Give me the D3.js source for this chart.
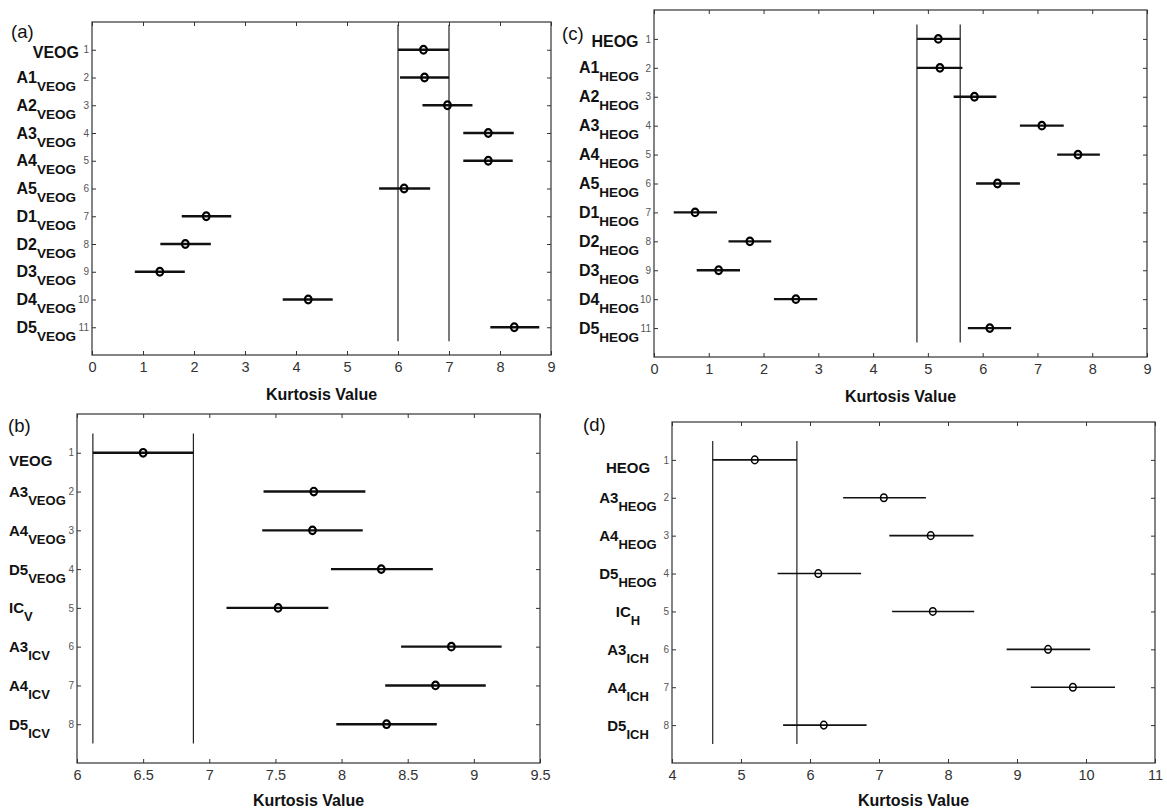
<!DOCTYPE html>
<html>
<head>
<meta charset="utf-8">
<script src="https://cdn.jsdelivr.net/npm/d3@7"></script>
<style>
  body { margin: 0; background: #fff; }
  svg text { font-family: "Liberation Sans", Arial, sans-serif; }
</style>
</head>
<body>
<svg id="chart" width="1167" height="812"></svg>
<script>
// panel (a) - VEOG kurtosis
const aLabels = [['VEOG', ''], ['A1', 'VEOG'], ['A2', 'VEOG'], ['A3', 'VEOG'], ['A4', 'VEOG'], ['A5', 'VEOG'],
  ['D1', 'VEOG'], ['D2', 'VEOG'], ['D3', 'VEOG'], ['D4', 'VEOG'], ['D5', 'VEOG']];
const aMean = [6.50, 6.52, 6.97, 7.77, 7.77, 6.12, 2.24, 1.83, 1.33, 4.24, 8.28];
const aLow = [6.00, 6.04, 6.48, 7.28, 7.28, 5.63, 1.76, 1.34, 0.84, 3.74, 7.81];
const aHigh = [7.00, 7.00, 7.46, 8.27, 8.25, 6.63, 2.73, 2.33, 1.82, 4.72, 8.77];
const aRef = [6.0, 7.0];
const aTicks = [0, 1, 2, 3, 4, 5, 6, 7, 8, 9];

// panel (b) - VEOG vs ICV
const bLabels = [['VEOG', ''], ['A3', 'VEOG'], ['A4', 'VEOG'], ['D5', 'VEOG'], ['IC', 'V'],
  ['A3', 'ICV'], ['A4', 'ICV'], ['D5', 'ICV']];
const bMean = [6.50, 7.79, 7.78, 8.30, 7.52, 8.83, 8.71, 8.34];
const bLow = [6.12, 7.41, 7.40, 7.92, 7.13, 8.45, 8.33, 7.96];
const bHigh = [6.88, 8.18, 8.16, 8.69, 7.90, 9.21, 9.09, 8.72];
const bRef = [6.12, 6.88];
const bTicks = [6, 6.5, 7, 7.5, 8, 8.5, 9, 9.5];

// panel (c) - HEOG kurtosis
const cLabels = [['HEOG', ''], ['A1', 'HEOG'], ['A2', 'HEOG'], ['A3', 'HEOG'], ['A4', 'HEOG'], ['A5', 'HEOG'],
  ['D1', 'HEOG'], ['D2', 'HEOG'], ['D3', 'HEOG'], ['D4', 'HEOG'], ['D5', 'HEOG']];
const cMean = [5.19, 5.22, 5.85, 7.08, 7.74, 6.27, 0.75, 1.75, 1.18, 2.59, 6.13];
const cLow = [4.80, 4.80, 5.47, 6.68, 7.36, 5.88, 0.36, 1.36, 0.78, 2.19, 5.73];
const cHigh = [5.59, 5.63, 6.25, 7.48, 8.14, 6.68, 1.15, 2.14, 1.57, 2.98, 6.52];
const cRef = [4.80, 5.59];
const cTicks = [0, 1, 2, 3, 4, 5, 6, 7, 8, 9];

// panel (d) - HEOG vs ICH
const dLabels = [['HEOG', ''], ['A3', 'HEOG'], ['A4', 'HEOG'], ['D5', 'HEOG'], ['IC', 'H'],
  ['A3', 'ICH'], ['A4', 'ICH'], ['D5', 'ICH']];
const dMean = [5.20, 7.07, 7.75, 6.12, 7.78, 9.45, 9.81, 6.20];
const dLow = [4.59, 6.48, 7.15, 5.53, 7.19, 8.85, 9.20, 5.61];
const dHigh = [5.81, 7.68, 8.37, 6.74, 8.38, 10.06, 10.42, 6.82];
const dRef = [4.59, 5.81];
const dTicks = [4, 5, 6, 7, 8, 9, 10, 11];

const svg = d3.select('#chart');

function drawPanel(p) {
  const g = svg.append('g');
  const n = p.labels.length;
  const x = d3.scaleLinear().domain([p.xTicks[0], p.xTicks[p.xTicks.length - 1]]).range([p.left, p.right]);
  const y = d3.scaleLinear().domain([0, n + 1]).range([p.top, p.bottom]);
  const rows = d3.range(1, n + 1);

  // axes, ticks pointing inward like matlab
  const bottom = g.append('g').attr('transform', `translate(0,${p.bottom})`)
    .call(d3.axisBottom(x).tickValues(p.xTicks).tickSize(-4).tickPadding(7).tickFormat(d3.format('')));
  g.append('g').attr('transform', `translate(0,${p.top})`)
    .call(d3.axisTop(x).tickValues(p.xTicks).tickSize(-4).tickFormat(''));
  const left = g.append('g').attr('transform', `translate(${p.left},0)`)
    .call(d3.axisLeft(y).tickValues(rows).tickSize(-4).tickPadding(3));
  g.append('g').attr('transform', `translate(${p.right},0)`)
    .call(d3.axisRight(y).tickValues(rows).tickSize(-4).tickFormat(''));
  g.selectAll('.domain').remove();
  g.selectAll('.tick line').attr('stroke', '#333');
  bottom.selectAll('text').attr('font-size', 14.5).attr('fill', '#333');
  left.selectAll('text').attr('font-size', 10).attr('fill', '#555');

  g.append('rect')
    .attr('x', p.left).attr('y', p.top)
    .attr('width', p.right - p.left).attr('height', p.bottom - p.top)
    .attr('fill', 'none').attr('stroke', '#333').attr('stroke-width', 1.2);

  // reference range lines
  g.selectAll('.ref').data(p.ref).join('line')
    .attr('x1', d => x(d)).attr('x2', d => x(d))
    .attr('y1', y(p.refSpan[0])).attr('y2', y(p.refSpan[1]))
    .attr('stroke', '#222').attr('stroke-width', 1.2);

  // error bars
  g.selectAll('.bar').data(rows).join('line')
    .attr('x1', i => x(p.low[i - 1])).attr('x2', i => x(p.high[i - 1]))
    .attr('y1', i => y(i)).attr('y2', i => y(i))
    .attr('stroke', '#111').attr('stroke-width', p.barWidth);

  g.selectAll('.pt').data(rows).join('ellipse')
    .attr('cx', i => x(p.mean[i - 1])).attr('cy', i => y(i))
    .attr('rx', 3.3).attr('ry', 3.8)
    .attr('fill', 'none').attr('stroke', '#000').attr('stroke-width', p.markWidth);

  // category labels with subscripts; the plain (no subscript) label sits a bit lower
  const plain = i => !p.labels[i - 1][1];
  const lab = g.selectAll('.lab').data(rows).join('text')
    .attr('x', i => p.labX + (plain(i) ? p.plainShift : 0))
    .attr('y', i => y(i) + 5.5 + (plain(i) ? p.plainDrop : 0))
    .attr('text-anchor', p.labAnchor)
    .attr('font-weight', 'bold').attr('fill', '#111');
  lab.append('tspan').attr('font-size', p.mainSize).text(i => p.labels[i - 1][0]);
  lab.append('tspan').attr('font-size', p.subSize).attr('dy', 8).text(i => p.labels[i - 1][1]);

  g.append('text')
    .attr('x', (p.left + p.right) / 2).attr('y', p.titleY)
    .attr('text-anchor', 'middle').attr('font-weight', 'bold').attr('font-size', 16).attr('fill', '#111')
    .text('Kurtosis Value');

  g.append('text')
    .attr('x', p.tagX).attr('y', p.tagY)
    .attr('font-size', 18.5).attr('fill', '#111')
    .text(p.tag);
}

drawPanel({
  tag: '(a)', tagX: 11, tagY: 38,
  labels: aLabels, mean: aMean, low: aLow, high: aHigh, ref: aRef, refSpan: [0.1, 11.5], xTicks: aTicks,
  left: 92, right: 551, top: 22, bottom: 355, titleY: 400,
  labX: 76, labAnchor: 'end', mainSize: 16, subSize: 13.5, plainDrop: 3, plainShift: 3,
  barWidth: 2.4, markWidth: 2.2
});

drawPanel({
  tag: '(c)', tagX: 562, tagY: 40,
  labels: cLabels, mean: cMean, low: cLow, high: cHigh, ref: cRef, refSpan: [0.5, 11.5], xTicks: cTicks,
  left: 654, right: 1147, top: 10, bottom: 357, titleY: 402,
  labX: 609, labAnchor: 'middle', mainSize: 16, subSize: 13.5, plainDrop: 3, plainShift: 6,
  barWidth: 2.4, markWidth: 2.2
});

drawPanel({
  tag: '(b)', tagX: 8, tagY: 432,
  labels: bLabels, mean: bMean, low: bLow, high: bHigh, ref: bRef, refSpan: [0.5, 8.5], xTicks: bTicks,
  left: 77, right: 540, top: 414, bottom: 763, titleY: 806,
  labX: 9, labAnchor: 'start', mainSize: 15, subSize: 13, plainDrop: 8, plainShift: 0,
  barWidth: 2.4, markWidth: 2.2
});

drawPanel({
  tag: '(d)', tagX: 583, tagY: 431,
  labels: dLabels, mean: dMean, low: dLow, high: dHigh, ref: dRef, refSpan: [0.5, 8.5], xTicks: dTicks,
  left: 672, right: 1155, top: 422, bottom: 763, titleY: 806,
  labX: 628, labAnchor: 'middle', mainSize: 15, subSize: 13, plainDrop: 8, plainShift: 0,
  barWidth: 1.6, markWidth: 1.5
});
</script>
</body>
</html>
